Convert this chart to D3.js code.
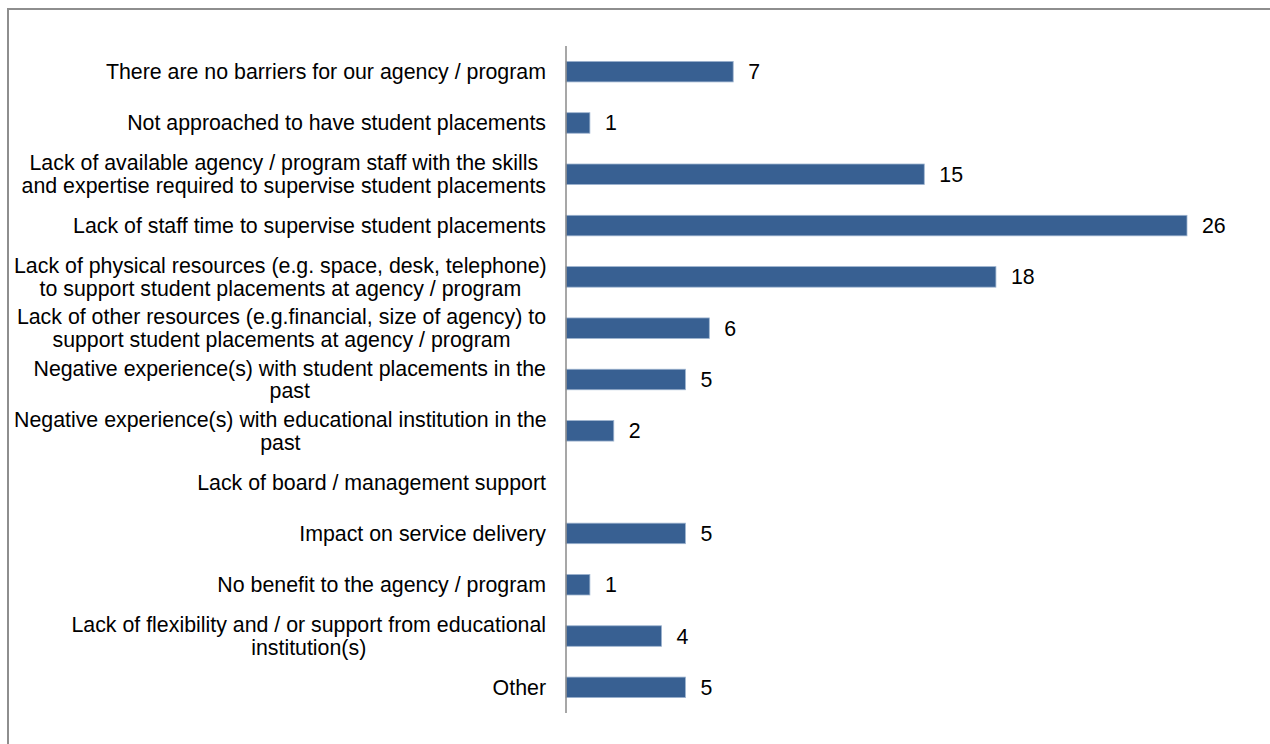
<!DOCTYPE html>
<html>
<head>
<meta charset="utf-8">
<script src="https://cdn.jsdelivr.net/npm/d3@7"></script>
<style>
  html, body { margin: 0; padding: 0; background: #fff; }
  svg { display: block; }
  text { font-family: "Liberation Sans", Arial, sans-serif; fill: #000; }
</style>
</head>
<body>
<svg id="chart" width="1270" height="744"></svg>
<script>
// Barriers to offering student placements (number of responses)
const categories = [
  ["There are no barriers for our agency / program"],
  ["Not approached to have student placements"],
  ["Lack of available agency / program staff with the skills", "and expertise required to supervise student placements"],
  ["Lack of staff time to supervise student placements"],
  ["Lack of physical resources (e.g. space, desk, telephone)", "to support student placements at agency / program"],
  ["Lack of other resources (e.g.financial, size of agency) to", "support student placements at agency / program"],
  ["Negative experience(s) with student placements in the", "past"],
  ["Negative experience(s) with educational institution in the", "past"],
  ["Lack of board / management support"],
  ["Impact on service delivery"],
  ["No benefit to the agency / program"],
  ["Lack of flexibility and / or support from educational", "institution(s)"],
  ["Other"]
];
const values = [7, 1, 15, 26, 18, 6, 5, 2, null, 5, 1, 4, 5];

const svg = d3.select("#chart");
const W = 1270, H = 744;
const plot = { left: 566, right: 1187, top: 46, bottom: 713 };
const fontSize = 21.35;
const labelRight = 546, labelMinLeft = 14;

// outer frame (top and left edges visible)
svg.append("path")
  .attr("d", `M8,${H} L8,9 L${W},9`)
  .attr("fill", "none")
  .attr("stroke", "#8e8e8e")
  .attr("stroke-width", 2);

const ids = categories.map((c, i) => i);
const y = d3.scaleBand()
  .domain(ids)
  .range([plot.top, plot.bottom])
  .paddingInner(0.6)
  .paddingOuter(0.3);

const x = d3.scaleLinear()
  .domain([0, 26])
  .range([plot.left, plot.right]);

// bars
svg.append("g").selectAll("rect")
  .data(ids.filter(i => values[i] != null && values[i] > 0))
  .join("rect")
  .attr("x", x(0))
  .attr("y", i => y(i))
  .attr("width", i => x(values[i]) - x(0))
  .attr("height", y.bandwidth())
  .attr("fill", "#386092")
  .attr("stroke", "#9db3cf")
  .attr("stroke-width", 0.8);

// value labels
svg.append("g").selectAll("text")
  .data(ids.filter(i => values[i] != null))
  .join("text")
  .attr("x", i => x(values[i]) + 15)
  .attr("y", i => y(i) + y.bandwidth() / 2)
  .attr("dy", "0.35em")
  .attr("font-size", fontSize)
  .text(i => values[i]);

// category labels: lines centred within a block that is right-aligned to the axis
const lineH = 22.5;
const labels = svg.append("g").selectAll("text")
  .data(ids)
  .join("text")
  .attr("font-size", fontSize)
  .attr("y", i => y(i) + y.bandwidth() / 2);
labels.each(function(i) {
  const lines = categories[i];
  const t = d3.select(this);
  const spans = lines.map((ln, k) => t.append("tspan")
    .attr("dy", k === 0 ? (0.35 * fontSize - (lines.length - 1) / 2 * lineH) : lineH)
    .text(ln));
  if (lines.length === 1) {
    t.attr("text-anchor", "end");
    spans.forEach(s => s.attr("x", labelRight));
  } else {
    const maxW = d3.max(spans, s => s.node().getComputedTextLength());
    const left = Math.max(labelMinLeft, labelRight - maxW);
    const cx = left + maxW / 2;
    t.attr("text-anchor", "middle");
    spans.forEach(s => s.attr("x", cx));
  }
});

// category axis line
const axis = d3.axisLeft(y).tickSize(0).tickFormat("");
svg.append("g")
  .attr("transform", `translate(${plot.left},0)`)
  .call(axis)
  .call(g => g.select(".domain")
    .attr("d", `M0,${plot.top}V${plot.bottom}`)
    .attr("stroke", "#8a8a8a")
    .attr("stroke-width", 1.5));
</script>
</body>
</html>
